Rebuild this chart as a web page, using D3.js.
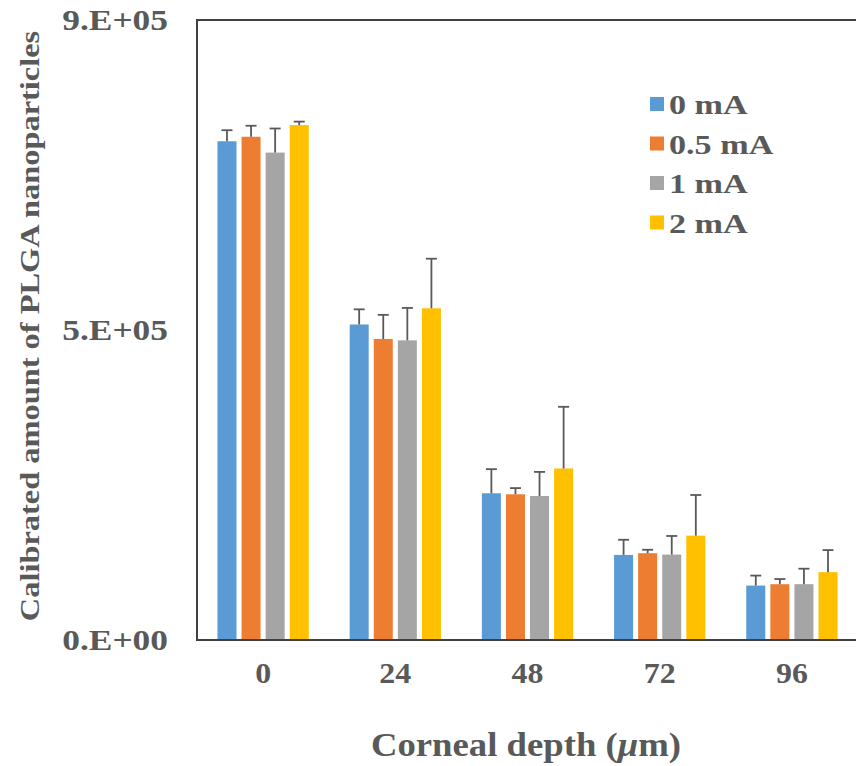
<!DOCTYPE html>
<html>
<head>
<meta charset="utf-8">
<script src="https://cdn.jsdelivr.net/npm/d3@7"></script>
<style>
  body { margin: 0; background: #fff; }
  text { font-family: "Liberation Serif", "Times New Roman", serif; font-weight: bold; fill: #595959; }
</style>
</head>
<body>
<svg id="chart"></svg>
<script>
const depths = ["0", "24", "48", "72", "96"];
const seriesNames = ["0 mA", "0.5 mA", "1 mA", "2 mA"];
const colors = ["#5B9BD5", "#ED7D31", "#A5A5A5", "#FFC000"];

const mA0 = [724000, 458000, 213000, 123500, 79000];
const mA05 = [730500, 437000, 211500, 126000, 81000];
const mA1 = [707500, 435000, 209000, 124000, 81000];
const mA2 = [747500, 481500, 249000, 151500, 98500];

const err0 = [16000, 22000, 35000, 22000, 14500];
const err05 = [16000, 35000, 9000, 5000, 7500];
const err1 = [35000, 47000, 35000, 27000, 22500];
const err2 = [5000, 72000, 89500, 59000, 32000];

const yTicks = [0, 450000, 900000];
const yTickLabels = ["0.E+00", "5.E+05", "9.E+05"];

const values = [mA0, mA05, mA1, mA2];
const errors = [err0, err05, err1, err2];

const width = 856;
const height = 766;
const plotLeft = 197, plotRight = 858, plotTop = 20, plotBottom = 640;

const svg = d3.select("#chart")
  .attr("width", width)
  .attr("height", height);

// the original text is a bit wider than Liberation Serif, stretch it
function stretch(sel, k) {
  sel.each(function () {
    const w = this.getComputedTextLength();
    d3.select(this)
      .attr("textLength", w * k)
      .attr("lengthAdjust", "spacingAndGlyphs");
  });
}

const x0 = d3.scaleBand()
  .domain(depths)
  .range([plotLeft, plotRight])
  .padding(0);

const x1 = d3.scaleBand()
  .domain(seriesNames)
  .range([0, x0.bandwidth()])
  .paddingInner(0.21)
  .paddingOuter(0.85);

const y = d3.scaleLinear()
  .domain([0, 900000])
  .range([plotBottom, plotTop]);

// flatten into rows for drawing
const rows = [];
seriesNames.forEach((s, i) => {
  depths.forEach((d, j) => {
    rows.push({ series: s, depth: d, value: values[i][j], err: errors[i][j], color: colors[i] });
  });
});

svg.selectAll(".bar")
  .data(rows)
  .enter().append("rect")
  .attr("class", "bar")
  .attr("x", d => x0(d.depth) + x1(d.series))
  .attr("y", d => y(d.value))
  .attr("width", x1.bandwidth())
  .attr("height", d => y(0) - y(d.value))
  .attr("fill", d => d.color);

// error bars (plus direction only)
const eb = svg.selectAll(".err")
  .data(rows)
  .enter().append("g")
  .attr("class", "err")
  .attr("stroke", "#595959")
  .attr("stroke-width", 1.8);

const cx = d => x0(d.depth) + x1(d.series) + x1.bandwidth() / 2;

eb.append("line")
  .attr("x1", cx)
  .attr("x2", cx)
  .attr("y1", d => y(d.value))
  .attr("y2", d => y(d.value + d.err));

eb.append("line")
  .attr("x1", d => cx(d) - 5.5)
  .attr("x2", d => cx(d) + 5.5)
  .attr("y1", d => y(d.value + d.err))
  .attr("y2", d => y(d.value + d.err));

// plot frame
svg.append("rect")
  .attr("x", plotLeft)
  .attr("y", plotTop)
  .attr("width", plotRight - plotLeft)
  .attr("height", plotBottom - plotTop)
  .attr("fill", "none")
  .attr("stroke", "#404040")
  .attr("stroke-width", 2);

// y axis
const yAxis = d3.axisLeft(y)
  .tickValues(yTicks)
  .tickSize(0)
  .tickPadding(29)
  .tickFormat((d, i) => yTickLabels[i]);

const gy = svg.append("g")
  .attr("transform", `translate(${plotLeft}, 0)`)
  .call(yAxis);
gy.select(".domain").remove();
gy.selectAll("text")
  .style("font-size", "30px")
  .attr("fill", "#595959")
  .call(stretch, 1.18);

// x axis
const xAxis = d3.axisBottom(x0)
  .tickSize(0)
  .tickPadding(22);

const gx = svg.append("g")
  .attr("transform", `translate(0, ${plotBottom})`)
  .call(xAxis);
gx.select(".domain").remove();
gx.selectAll("text")
  .style("font-size", "29px")
  .attr("fill", "#595959")
  .call(stretch, 1.1);

// axis titles
const xTitle = svg.append("text")
  .attr("x", 526)
  .attr("y", 756)
  .attr("text-anchor", "middle")
  .style("font-size", "34px");
xTitle.append("tspan").text("Corneal depth (");
xTitle.append("tspan").style("font-style", "italic").text("μ");
xTitle.append("tspan").text("m)");
xTitle.call(stretch, 1.08);

svg.append("text")
  .attr("transform", "translate(39, 326) rotate(-90)")
  .attr("text-anchor", "middle")
  .style("font-size", "27px")
  .text("Calibrated amount of PLGA nanoparticles")
  .call(stretch, 1.2);

// legend
const legend = svg.selectAll(".legend")
  .data(seriesNames)
  .enter().append("g")
  .attr("class", "legend")
  .attr("transform", (d, i) => `translate(650, ${104 + i * 39.5})`);

legend.append("rect")
  .attr("x", 0)
  .attr("y", -7)
  .attr("width", 14)
  .attr("height", 14)
  .attr("fill", (d, i) => colors[i]);

legend.append("text")
  .attr("x", 19)
  .attr("y", 10)
  .style("font-size", "28px")
  .text(d => d)
  .call(stretch, 1.22);
</script>
</body>
</html>
